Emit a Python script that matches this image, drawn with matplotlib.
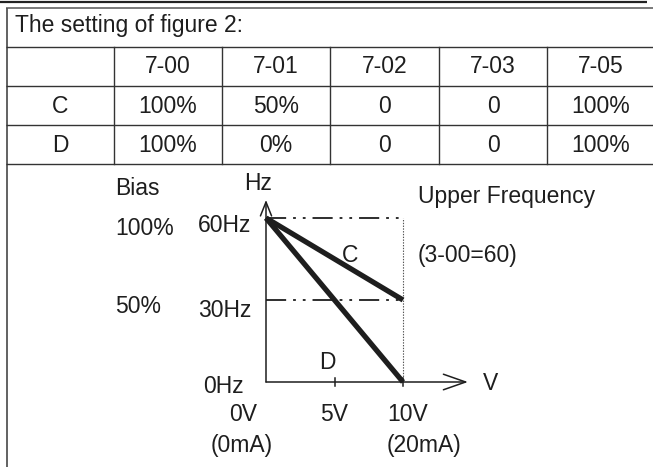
import matplotlib
matplotlib.use('Agg')
import matplotlib.pyplot as plt

plt.rcParams['font.family'] = ['Liberation Sans', 'DejaVu Sans']
plt.rcParams['lines.scale_dashes'] = False

# table data
title = 'The setting of figure 2:'
params = ['7-00', '7-01', '7-02', '7-03', '7-05']
row_names = ['C', 'D']
row_values = [['100%', '50%', '0', '0', '100%'],
              ['100%', '0%', '0', '0', '100%']]

# diagram data (input volts -> output Hz)
volts = [0, 10]
c_hz = [60, 30]
d_hz = [60, 0]
levels_hz = [60, 30]
vticks = [5, 10]

W, H = 653, 467
ink = '#1e1e1e'
fs = 16.5

fig = plt.figure(figsize=(W / 100, H / 100), dpi=100)

# overlay in pixel coords for the table frame and labels
ax = fig.add_axes([0, 0, 1, 1])
ax.set_xlim(0, W)
ax.set_ylim(H, 0)
ax.axis('off')

def txt(x, y, s, ha='left'):
    ax.text(x, y, s, ha=ha, va='baseline', fontsize=fs, color=ink)

# frame
ax.plot([0, 647], [1.5, 1.5], color='#222222', lw=1.6, solid_capstyle='butt')
ax.plot([6, W], [7.5, 7.5], color='#555555', lw=1.1, solid_capstyle='butt')
ax.plot([6.5, 6.5], [7.5, H], color='#555555', lw=1.3, solid_capstyle='butt')

col_edges = [6, 114, 222, 330, 439, 547, 655]
row_edges = [47, 86, 125, 164]
for y in row_edges:
    ax.plot([6, W], [y, y], color='#333333', lw=1.0, solid_capstyle='butt')
for x in col_edges[1:-1]:
    ax.plot([x, x], [row_edges[0], row_edges[-1]], color='#333333', lw=1.0)

txt(15, 32, title)
baselines = [73, 113, 152]
for j, p in enumerate(params):
    cx = (col_edges[j + 1] + col_edges[j + 2]) / 2
    txt(cx, baselines[0], p, ha='center')
for i, name in enumerate(row_names):
    cx = (col_edges[0] + col_edges[1]) / 2
    txt(cx, baselines[i + 1], name, ha='center')
    for j, v in enumerate(row_values[i]):
        cx = (col_edges[j + 1] + col_edges[j + 2]) / 2
        txt(cx, baselines[i + 1], v, ha='center')

# diagram labels
txt(115, 195, 'Bias')
txt(258, 190, 'Hz', ha='center')
txt(115, 235, '100%')
txt(198, 232, '60Hz')
txt(115, 313, '50%')
txt(198, 317, '30Hz')
txt(203, 393, '0Hz')
txt(243, 421, '0V', ha='center')
txt(334, 421, '5V', ha='center')
txt(408, 421, '10V', ha='center')
txt(242, 452, '(0mA)', ha='center')
txt(424, 452, '(20mA)', ha='center')
txt(483, 390, 'V')
txt(350, 262, 'C', ha='center')
txt(327, 369, 'D', ha='center')
txt(418, 203, 'Upper Frequency')
txt(418, 262, '(3-00=60)')

# diagram axes: 0..10 V, 0..60 Hz
x0, x1, y0, y1 = 266, 403, 382, 218
ax2 = fig.add_axes([x0 / W, (H - y0) / H, (x1 - x0) / W, (y0 - y1) / H])
ax2.set_xlim(0, 10)
ax2.set_ylim(0, 60)
ax2.axis('off')
ax2.patch.set_alpha(0)

# axes with open arrowheads
ax2.annotate('', xy=(14.74, 0), xytext=(0, 0),
             arrowprops=dict(arrowstyle='->, head_length=0.8, head_width=0.28',
                             color=ink, lw=1.1, shrinkA=0, shrinkB=0,
                             mutation_scale=20), annotation_clip=False)
ax2.annotate('', xy=(0, 66.6), xytext=(0, 0),
             arrowprops=dict(arrowstyle='->, head_length=0.5, head_width=0.2',
                             color=ink, lw=1.1, shrinkA=0, shrinkB=0,
                             mutation_scale=20), annotation_clip=False)
for v in vticks:
    ax2.plot([v, v], [-1.5, 1.5], color=ink, lw=1.1, clip_on=False)

# reference levels and upper limit
for lv in levels_hz:
    ax2.plot([0, 10], [lv, lv], color=ink, lw=1.3, clip_on=False,
             dashes=(14.5, 5, 2, 5, 2, 5))
ax2.plot([10, 10], [0, 60], color='#555555', lw=0.8, clip_on=False,
         dashes=(1, 1))

# bias curves C and D
ax2.plot(volts, c_hz, color=ink, lw=3.8, clip_on=False, solid_capstyle='butt')
ax2.plot(volts, d_hz, color=ink, lw=3.8, clip_on=False, solid_capstyle='butt')

plt.savefig('out.png', dpi=100)
